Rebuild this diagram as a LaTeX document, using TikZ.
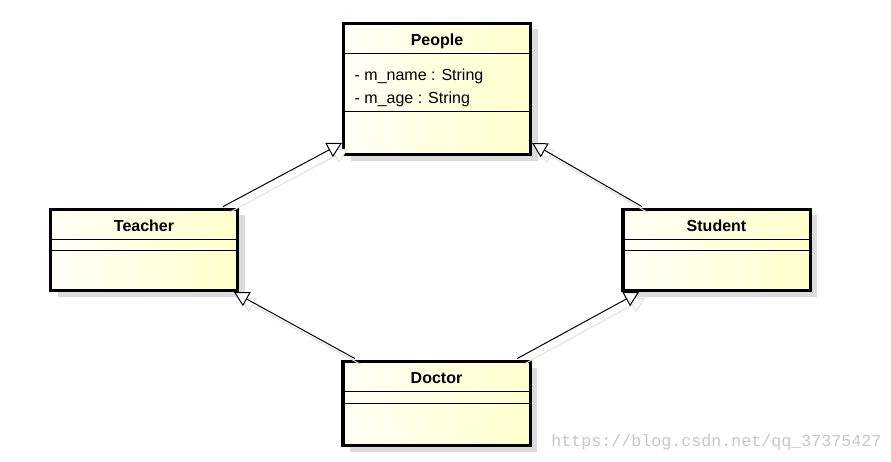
\documentclass[tikz,border=0pt]{standalone}
\usepackage{fontspec}
\setmainfont{Liberation Sans}
\setmonofont{Liberation Mono}
\usetikzlibrary{calc}
\usetikzlibrary{arrows.meta,shadows}

\begin{document}
\begin{tikzpicture}[x=0.75pt,y=-0.75pt,
    umlclass/.style={draw=black, line width=2.3pt, inner sep=0pt,
        minimum width=140.3pt, minimum height=60.8pt,
        left color={rgb,255:red,255;green,255;blue,247},
        right color={rgb,255:red,255;green,255;blue,204},
        drop shadow={shadow xshift=5.5pt, shadow yshift=-4.5pt, fill=black!14, opacity=1}},
    sepline/.style={line width=0.8pt},
    classname/.style={anchor=base, inner sep=0pt, font=\fontsize{12}{14}\selectfont\bfseries},
    attr/.style={anchor=base west, inner sep=0pt, font=\fontsize{12}{14}\selectfont},
    gen/.style={-{Triangle[fill=white, length=11pt, width=12pt]}, line width=0.75pt},
    genshadow/.style={gen, draw=black!12, transform canvas={shift={(4.5pt,-4.5pt)}}}
    ]

\useasboundingbox (0,0) rectangle (891,461);

    %%% classes
    \node[umlclass, minimum height=98.8pt] (people) at (437,89) {};
    \node[umlclass] (teacher) at (144,250) {};
    \node[umlclass] (student) at (716.5,250) {};
    \node[umlclass, minimum height=63pt] (doctor) at (436.5,403.5) {};

    \draw[sepline] ($(people.north west)+(0,31.5)$) -- ($(people.north east)+(0,31.5)$);
    \draw[sepline] ($(people.north west)+(0,89.5)$) -- ($(people.north east)+(0,89.5)$);

    \draw[sepline] ($(teacher.north west)+(0,31.5)$) -- ($(teacher.north east)+(0,31.5)$);
    \draw[sepline] ($(teacher.north west)+(0,42.5)$) -- ($(teacher.north east)+(0,42.5)$);

    \draw[sepline] ($(student.north west)+(0,31.5)$) -- ($(student.north east)+(0,31.5)$);
    \draw[sepline] ($(student.north west)+(0,42.5)$) -- ($(student.north east)+(0,42.5)$);

    \draw[sepline] ($(doctor.north west)+(0,31.5)$) -- ($(doctor.north east)+(0,31.5)$);
    \draw[sepline] ($(doctor.north west)+(0,43.5)$) -- ($(doctor.north east)+(0,43.5)$);

    %%% texts
    \node[classname] (peoplename) at ($(people.north)+(0,23.5)$) {People};
    \node[attr] (attrname) at ($(people.north west)+(12.5,58.5)$) {- m\_name : String};
    \node[attr] (attrage) at ($(people.north west)+(12.5,81.5)$) {- m\_age : String};

    \node[classname] (teachername) at ($(teacher.north)+(0,23.5)$) {Teacher};
    \node[classname] (studentname) at ($(student.north)+(0,23.5)$) {Student};
    \node[classname] (doctorname) at ($(doctor.north)+(0,23.5)$) {Doctor};

    %%% generalizations
    \draw[genshadow] ([xshift=59.25pt,yshift=1pt]teacher.north) -- ([yshift=-40.5pt]people.west);
    \draw[genshadow] ([xshift=-55.9pt,yshift=1pt]student.north) -- ([yshift=-40.5pt]people.east);
    \draw[genshadow] ([xshift=-61.1pt,yshift=1pt]doctor.north) -- ([xshift=67.5pt]teacher.south);
    \draw[genshadow] ([xshift=60.4pt,yshift=1pt]doctor.north) -- ([xshift=-58.1pt]student.south);

    \draw[gen] ([xshift=59.25pt,yshift=1pt]teacher.north) -- ([yshift=-40.5pt]people.west);
    \draw[gen] ([xshift=-55.9pt,yshift=1pt]student.north) -- ([yshift=-40.5pt]people.east);
    \draw[gen] ([xshift=-61.1pt,yshift=1pt]doctor.north) -- ([xshift=67.5pt]teacher.south);
    \draw[gen] ([xshift=60.4pt,yshift=1pt]doctor.north) -- ([xshift=-58.1pt]student.south);

% watermark
    \node[anchor=base west, inner sep=0pt, text=black!22, font=\ttfamily\fontsize{12.5}{14}\selectfont] (mark) at (551,446) {https://blog.csdn.net/qq\_37375427};

\end{tikzpicture}
\end{document}
